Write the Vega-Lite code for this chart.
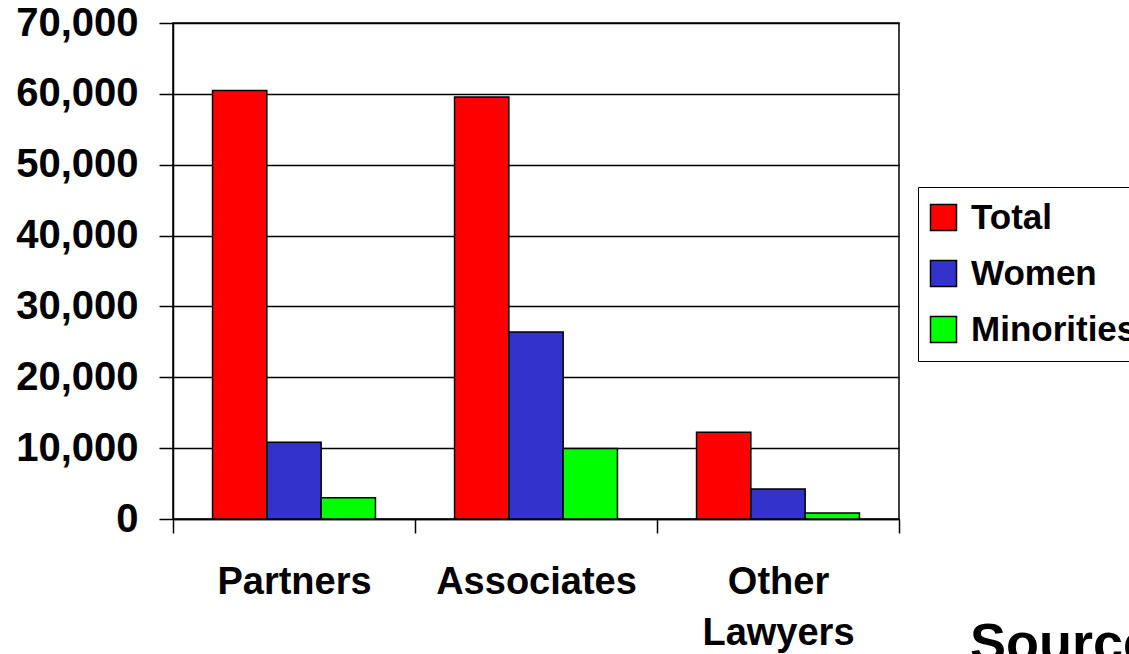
{
  "$schema": "https://vega.github.io/schema/vega-lite/v6.json",
  "autosize": {"type": "none"},
  "width": 726,
  "height": 496,
  "padding": {"left": 173, "top": 23, "right": 230, "bottom": 135},
  "background": "white",
  "title": {
    "text": "Source",
    "orient": "bottom",
    "anchor": "start",
    "frame": "group",
    "dx": 797,
    "offset": -34,
    "font": "Liberation Sans",
    "fontSize": 54,
    "fontWeight": "bold",
    "color": "black",
    "baseline": "top"
  },
  "data": {
    "values": [
      {"category": "Partners", "group": "Total", "lawyers": 60480},
      {"category": "Partners", "group": "Women", "lawyers": 10830},
      {"category": "Partners", "group": "Minorities", "lawyers": 3010},
      {"category": "Associates", "group": "Total", "lawyers": 59540},
      {"category": "Associates", "group": "Women", "lawyers": 26400},
      {"category": "Associates", "group": "Minorities", "lawyers": 9950},
      {"category": "Other Lawyers", "group": "Total", "lawyers": 12240},
      {"category": "Other Lawyers", "group": "Women", "lawyers": 4240},
      {"category": "Other Lawyers", "group": "Minorities", "lawyers": 850}
    ]
  },
  "mark": {"type": "bar", "stroke": "black", "strokeWidth": 1.5},
  "encoding": {
    "x": {
      "field": "category",
      "type": "nominal",
      "sort": ["Partners", "Associates", "Other Lawyers"],
      "scale": {"paddingInner": 0, "paddingOuter": 0},
      "axis": {
        "title": null,
        "labelAngle": 0,
        "tickBand": "extent",
        "tickSize": 14,
        "tickColor": "black",
        "tickWidth": 1.5,
        "domainColor": "black",
        "domainWidth": 1.5,
        "labelPadding": 30,
        "labelFont": "Liberation Sans",
        "labelFontWeight": "bold",
        "labelFontSize": 38,
        "labelColor": "black",
        "labelLineHeight": 51,
        "labelLimit": 400,
        "labelExpr": "split(datum.label, ' ')"
      }
    },
    "xOffset": {
      "field": "group",
      "type": "nominal",
      "sort": ["Total", "Women", "Minorities"],
      "scale": {"paddingInner": 0, "paddingOuter": 0.728}
    },
    "y": {
      "field": "lawyers",
      "type": "quantitative",
      "scale": {"domain": [0, 70000], "nice": false},
      "axis": {
        "title": null,
        "values": [0, 10000, 20000, 30000, 40000, 50000, 60000, 70000],
        "format": ",d",
        "tickSize": 14,
        "tickColor": "black",
        "tickWidth": 1.5,
        "domainColor": "black",
        "domainWidth": 1.5,
        "gridColor": "black",
        "gridWidth": 1.5,
        "gridOpacity": 1,
        "labelPadding": 21,
        "labelFont": "Liberation Sans",
        "labelFontWeight": "bold",
        "labelFontSize": 40,
        "labelColor": "black"
      }
    },
    "color": {
      "field": "group",
      "type": "nominal",
      "sort": ["Total", "Women", "Minorities"],
      "scale": {
        "domain": ["Total", "Women", "Minorities"],
        "range": ["#FF0000", "#3333CC", "#00FF00"]
      },
      "legend": {
        "title": null,
        "orient": "none",
        "legendX": 745,
        "legendY": 164,
        "symbolType": "square",
        "symbolSize": 676,
        "symbolOffset": -5,
        "symbolStrokeColor": "black",
        "symbolStrokeWidth": 1.5,
        "symbolOpacity": 1,
        "labelFont": "Liberation Sans",
        "labelFontWeight": "bold",
        "labelFontSize": 35,
        "labelColor": "black",
        "labelOffset": 10,
        "labelLimit": 400,
        "rowPadding": 20,
        "padding": 13,
        "strokeColor": "black",
        "fillColor": "white"
      }
    }
  },
  "config": {
    "view": {"stroke": "black", "strokeWidth": 1.5},
    "axis": {"gridColor": "black"}
  }
}
